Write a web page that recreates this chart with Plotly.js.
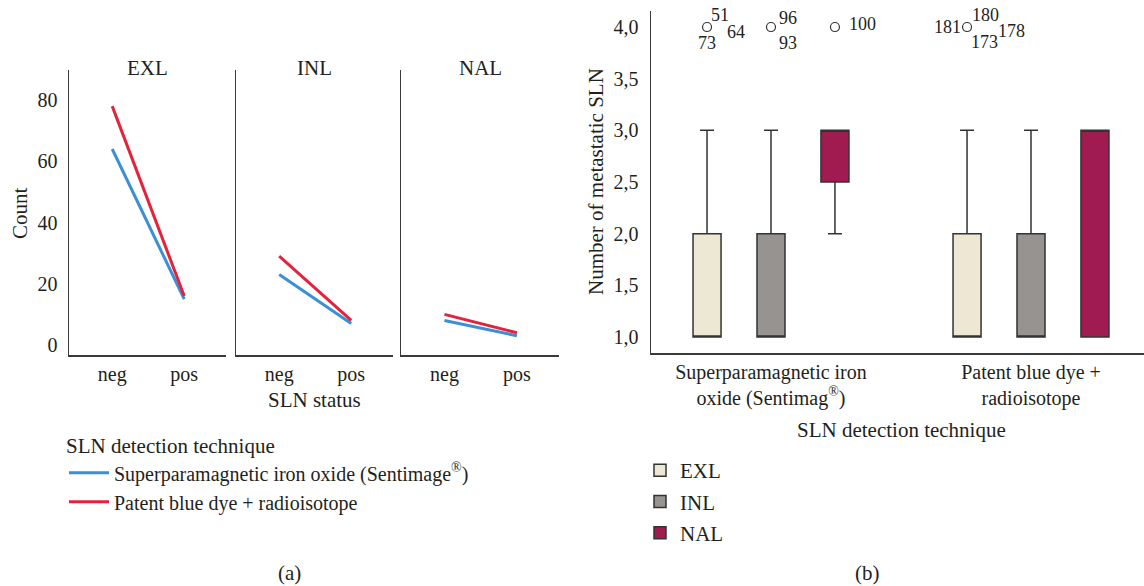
<!DOCTYPE html>
<html><head><meta charset="utf-8">
<script src="https://cdn.plot.ly/plotly-3.0.1.min.js"></script>
<style>html,body{margin:0;padding:0;background:#fff}#chart{width:1144px;height:586px}</style>
</head><body><div id="chart"></div>
<script>
// ---------- Panel (a): counts by SLN status ----------
const facets = ['EXL', 'INL', 'NAL'];
const slnStatus = ['neg', 'pos'];
const techniqueNames = ['Superparamagnetic iron oxide (Sentimage<sup>®</sup>)', 'Patent blue dye + radioisotope'];
const spioEXL = [64, 15];
const spioINL = [23, 7];
const spioNAL = [8, 3];
const pbdEXL = [78, 16];
const pbdINL = [29, 8];
const pbdNAL = [10, 4];
const countTicks = [0, 20, 40, 60, 80];

// ---------- Panel (b): number of metastatic SLN ----------
const techniqueCats = ['Superparamagnetic iron<br>oxide (Sentimag<sup>®</sup>)', 'Patent blue dye +<br>radioisotope'];
const levels = ['EXL', 'INL', 'NAL'];
const q1EXL = [1, 1], medEXL = [1, 1], q3EXL = [2, 2], lowEXL = [1, 1], upEXL = [3, 3], outEXL = [[4], [4]];
const q1INL = [1, 1], medINL = [1, 1], q3INL = [2, 2], lowINL = [1, 1], upINL = [3, 3], outINL = [[4], []];
const q1NAL = [2.5, 1], medNAL = [3, 3], q3NAL = [3, 3], lowNAL = [2, 1], upNAL = [3, 3], outNAL = [[4], []];
const slnTicks = [1, 1.5, 2, 2.5, 3, 3.5, 4];
// outlier case numbers: [level][technique]
const caseEXL = [['51', '64', '73'], ['181', '180', '178', '173']];
const caseINL = [['96', '93'], []];
const caseNAL = [['100'], []];

// ---------- styling / geometry ----------
const W = 1144, H = 586;
const px = v => v / W, py = v => 1 - v / H;
const FONT = '"Liberation Serif", "Times New Roman", serif';
const TXT = '#231f20';
const AX = '#3a3a3a';
const BLUE = '#3b8fd4', RED = '#e5223c';
const levelFill = ['#ede8d3', '#979391', '#a01c50'];
const BOXGAP = 0.262, BOXGROUPGAP = 0.562;
const slot = (1 - BOXGAP) / 3;
// pixel offsets of case labels around each outlier circle
const shiftEXL = [[[13, -12], [29, 5], [0, 16]], [[-20, 0], [18, -12], [44, 4], [17, 15]]];
const shiftINL = [[[17, -9], [17, 16]], []];
const shiftNAL = [[[28, -3]], []];

const facetDom = [[69, 226], [236, 393], [401, 559]];
const spio = [spioEXL, spioINL, spioNAL];
const pbd = [pbdEXL, pbdINL, pbdNAL];

const traces = [];
facets.forEach((f, i) => {
  const ax = i === 0 ? '' : String(i + 1);
  traces.push({type: 'scatter', mode: 'lines', x: slnStatus, y: spio[i], name: techniqueNames[0],
    line: {color: BLUE, width: 3}, xaxis: 'x' + ax, yaxis: 'y' + ax, showlegend: i === 0, legend: 'legend', hoverinfo: 'x+y'});
});
facets.forEach((f, i) => {
  const ax = i === 0 ? '' : String(i + 1);
  traces.push({type: 'scatter', mode: 'lines', x: slnStatus, y: pbd[i], name: techniqueNames[1],
    line: {color: RED, width: 3}, xaxis: 'x' + ax, yaxis: 'y' + ax, showlegend: i === 0, legend: 'legend', hoverinfo: 'x+y'});
});

const boxStats = [
  [q1EXL, medEXL, q3EXL, lowEXL, upEXL, outEXL],
  [q1INL, medINL, q3INL, lowINL, upINL, outINL],
  [q1NAL, medNAL, q3NAL, lowNAL, upNAL, outNAL]
];
levels.forEach((lv, k) => {
  const s = boxStats[k];
  traces.push({type: 'box', name: lv, x: techniqueCats, q1: s[0], median: s[1], q3: s[2],
    lowerfence: s[3], upperfence: s[4], y: s[5], orientation: 'v',
    boxpoints: 'outliers', jitter: 0, pointpos: 0, whiskerwidth: 0.5,
    fillcolor: levelFill[k], line: {color: '#333333', width: 1.5},
    marker: {symbol: 'circle-open', size: 9, color: '#333333', line: {width: 1.2}},
    xaxis: 'x4', yaxis: 'y4', legend: 'legend2', legendgroup: lv});
});

const annotations = [];
const ann = (text, x, y, extra) => Object.assign({text, x: px(x), y: py(y), xref: 'paper', yref: 'paper',
  showarrow: false, xanchor: 'center', yanchor: 'middle', font: {size: 21, color: TXT, family: FONT}}, extra || {});
facets.forEach((f, i) => annotations.push(ann(f, (facetDom[i][0] + facetDom[i][1]) / 2, 68)));
annotations.push(ann('SLN status', 314, 400));
annotations.push(ann('Count', 20, 213, {textangle: -90}));
annotations.push(ann('(a)', 289, 573));
annotations.push(ann('(b)', 867, 573));
annotations.push(ann('SLN detection technique', 901, 430));
annotations.push(ann('Number of metastatic SLN', 596, 182, {textangle: -90}));

const cases = [caseEXL, caseINL, caseNAL];
const shifts = [shiftEXL, shiftINL, shiftNAL];
levels.forEach((lv, k) => {
  cases[k].forEach((ids, g) => {
    ids.forEach((id, j) => {
      annotations.push({text: id, x: g + (k - 1) * slot, y: boxStats[k][5][g][0], xref: 'x4', yref: 'y4',
        xshift: shifts[k][g][j][0], yshift: -shifts[k][g][j][1], showarrow: false,
        xanchor: 'center', yanchor: 'middle', font: {size: 18, color: TXT, family: FONT}});
    });
  });
});

const baseX = {type: 'category', range: [-0.6, 1.58], showline: true, linecolor: AX, linewidth: 1.5,
  ticks: '', showgrid: false, zeroline: false, tickfont: {size: 20, color: TXT}, fixedrange: true};
const baseY = {range: [-3.27, 89.8], tickvals: countTicks, showline: true, linecolor: AX, linewidth: 1.5,
  ticks: '', showgrid: false, zeroline: false, tickfont: {size: 20, color: TXT}, fixedrange: true};
const yDom = [py(355), py(70)];

const layout = {
  width: W, height: H, margin: {l: 0, r: 0, t: 0, b: 0},
  paper_bgcolor: '#ffffff', plot_bgcolor: 'rgba(0,0,0,0)',
  font: {family: FONT, size: 20, color: TXT},
  separators: ',.',
  boxmode: 'group', boxgap: BOXGAP, boxgroupgap: BOXGROUPGAP,
  xaxis: Object.assign({}, baseX, {domain: [px(69), px(226)], anchor: 'y'}),
  yaxis: Object.assign({}, baseY, {domain: yDom, anchor: 'x', ticklabelstandoff: 6}),
  xaxis2: Object.assign({}, baseX, {domain: [px(236), px(393)], anchor: 'y2'}),
  yaxis2: Object.assign({}, baseY, {domain: yDom, anchor: 'x2', showticklabels: false}),
  xaxis3: Object.assign({}, baseX, {domain: [px(401), px(559)], anchor: 'y3'}),
  yaxis3: Object.assign({}, baseY, {domain: yDom, anchor: 'x3', showticklabels: false}),
  xaxis4: {type: 'category', domain: [px(651), 1], anchor: 'y4', range: [-0.4615, 1.4346],
    showline: true, linecolor: AX, linewidth: 1.5, ticks: '', showgrid: false, zeroline: false,
    tickfont: {size: 20, color: TXT}, fixedrange: true},
  yaxis4: {domain: [py(353), py(11)], anchor: 'x4', range: [0.845, 4.155], tickvals: slnTicks, tickformat: '.1f',
    showline: true, linecolor: AX, linewidth: 1.5, ticks: '', showgrid: false, zeroline: false,
    tickfont: {size: 20, color: TXT}, ticklabelstandoff: 7, fixedrange: true},
  showlegend: true,
  legend: {x: px(64), y: py(426), xanchor: 'left', yanchor: 'top', bgcolor: 'rgba(0,0,0,0)', itemwidth: 40,
    font: {size: 20, color: TXT, family: FONT}, title: {text: 'SLN detection technique', font: {size: 21, color: TXT, family: FONT}},
    traceorder: 'normal'},
  legend2: {x: px(640), y: py(450), xanchor: 'left', yanchor: 'top', bgcolor: 'rgba(0,0,0,0)',
    font: {size: 21, color: TXT, family: FONT}, traceorder: 'grouped', tracegroupgap: 1},
  annotations: annotations
};

Plotly.newPlot('chart', traces, layout, {displayModeBar: false, staticPlot: true});
</script>
</body></html>
